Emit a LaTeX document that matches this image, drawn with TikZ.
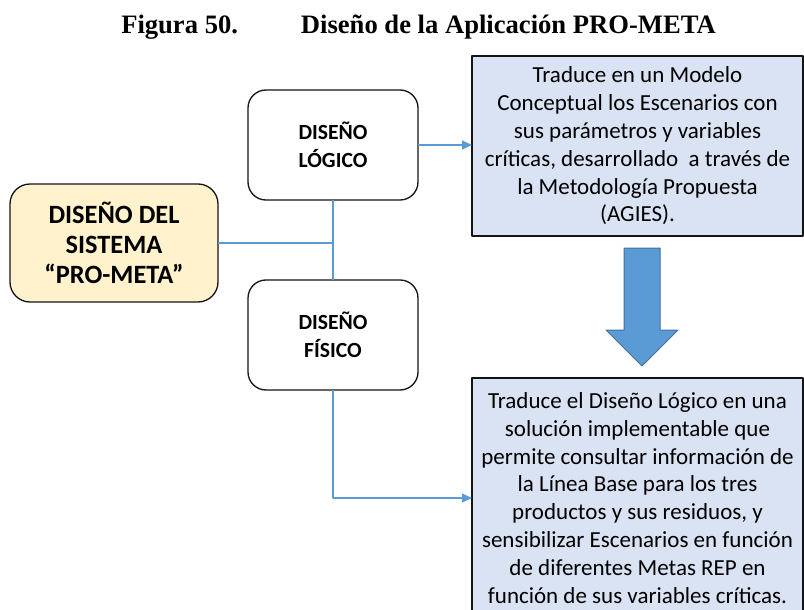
\documentclass[tikz,border=0pt]{standalone}
\usepackage{fontspec}
\setmainfont{Liberation Serif}
\newfontfamily\boxfont{Carlito}
\usetikzlibrary{arrows.meta,positioning}
\definecolor{PmLine}{HTML}{5B9BD5}
\definecolor{PmArrowEdge}{HTML}{41719C}
\definecolor{PmDetail}{HTML}{DAE3F3}
\definecolor{PmSystem}{HTML}{FFF2CC}
\definecolor{PmInk}{gray}{0.08}
\tikzset{
    pm/diagram/.style={
        x=1pt, y=-1pt,
        line join=round,
        every node/.style={inner sep=2pt, outer sep=0pt}
    },
    pm/system/.style={
        draw=PmInk, fill=PmSystem, line width=1.3pt,
        rounded corners=20pt, minimum width=208pt, minimum height=118pt,
        align=center, font=\boxfont\bfseries\fontsize{26.4}{30}\selectfont
    },
    pm/phase/.style={
        draw=PmInk, fill=white, line width=1.3pt,
        rounded corners=18pt, minimum width=170pt, minimum height=110pt,
        align=center, font=\boxfont\bfseries\fontsize{21.6}{28}\selectfont
    },
    pm/detail/.style={
        draw=PmInk, fill=PmDetail, line width=1.3pt,
        minimum width=331pt, align=center,
        font=\boxfont\fontsize{23}{27.8}\selectfont
    },
    pm/link/.style={draw=PmLine, line width=1.1pt},
    pm/feed/.style={
        pm/link, -{Triangle[length=10pt, width=9pt]}
    },
    pm/blockarrow/.style={
        draw=PmArrowEdge, fill=PmLine, line width=1pt
    }
}
\begin{document}
\begin{tikzpicture}[pm/diagram]
    \useasboundingbox (0,0) rectangle (804,610);
    \node (titulo) at (418.5,27)
        {\bfseries\fontsize{26.6}{30}\selectfont Figura 50.\hspace{63pt}Diseño de la Aplicación PRO-META};
    % the three boxes on the left
    \node[pm/system] (sistema) at (114,243) {DISEÑO DEL\\SISTEMA\\“PRO-META”};
    \node[pm/phase] (logico) at (333,145) {DISEÑO\\LÓGICO};
    \node[pm/phase] (fisico) at (333,335) {DISEÑO\\FÍSICO};
    % descriptions on the right
    \node[pm/detail, minimum height=180pt] (detLogico) at (637.5,146)
        {Traduce en un Modelo\\Conceptual los Escenarios con\\sus parámetros y variables\\críticas, desarrollado\ \ a través de\\la Metodología\ Propuesta\\(AGIES).};
    \node[pm/detail, minimum height=240pt] (detFisico) at (637.5,498)
        {Traduce el Diseño Lógico en una\\solución implementable que\\permite consultar información de\\la Línea Base para los tres\\productos y sus residuos, y\\sensibilizar Escenarios en función\\de diferentes Metas REP en\\función de sus variables críticas.};
    \coordinate (junta) at (logico.south |- sistema.east);
    \draw[pm/link] (sistema.east) -- (junta);
    \draw[pm/link] (logico.south) -- (fisico.north);
    \draw[pm/feed] (logico.east) -- (logico.east -| detLogico.west);
    \draw[pm/feed] (fisico.south) |- (detFisico.west);
    % block arrow between the descriptions
    \coordinate (punta) at (642,366);
    \draw[pm/blockarrow] (punta) -- ++(-36,-36) -- ++(18,0) -- ++(0,-82)
        -- ++(36,0) -- ++(0,82) -- ++(18,0) -- cycle;
\end{tikzpicture}
\end{document}
